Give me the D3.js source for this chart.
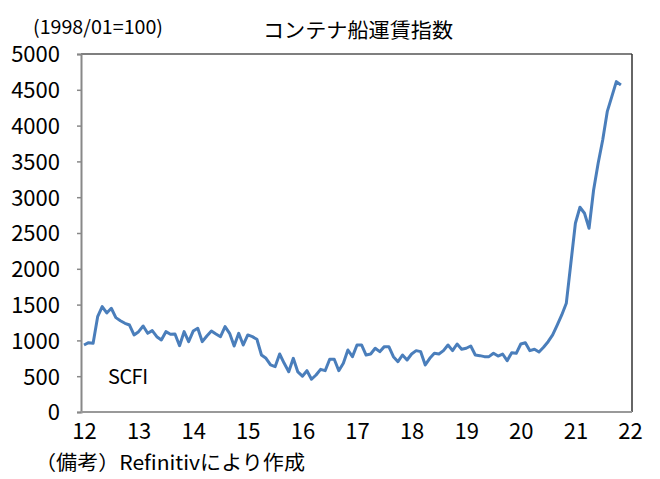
<!DOCTYPE html>
<html lang="ja">
<head>
<meta charset="UTF-8">
<title>コンテナ船運賃指数</title>
<script src="https://d3js.org/d3.v7.min.js"></script>
<style>
    body { margin: 0; background: #fff; }
    svg text { font-family: "Noto Sans CJK JP", sans-serif; fill: #000; }
</style>
</head>
<body>
<svg id="chart" width="660" height="479"></svg>
<script>
    // SCFI monthly, 2012/01 - 2021/11 (1998/01=100)
    const startYear = 2012;
    const scfi = [
        936, 968, 960, 1331, 1471, 1383, 1449, 1318, 1275, 1239, 1215, 1076,
        1122, 1201, 1099, 1136, 1052, 1006, 1122, 1085, 1090, 926, 1122, 982,
        1130, 1169, 982, 1062, 1132, 1090, 1052, 1192, 1099, 922, 1099, 936,
        1076, 1052, 1016, 796, 750, 657, 633, 810, 680, 563, 750, 560,
        500, 577, 457, 517, 596, 577, 736, 736, 577, 680, 866, 773,
        936, 936, 796, 810, 890, 843, 913, 913, 773, 703, 796, 726,
        810, 857, 843, 657, 750, 820, 810, 857, 936, 857, 950, 876,
        890, 922, 796, 787, 773, 773, 820, 782, 810, 717, 829, 820,
        950, 968, 857, 876, 838, 904, 982, 1076, 1215, 1355, 1518, 2077,
        2636, 2860, 2776, 2566, 3101, 3474, 3800, 4195, 4405, 4614, 4568
    ];
    const yearTicks = [12, 13, 14, 15, 16, 17, 18, 19, 20, 21, 22];
    const valueTicks = [0, 500, 1000, 1500, 2000, 2500, 3000, 3500, 4000, 4500, 5000];

    const title = "コンテナ船運賃指数";
    const unitLabel = "(1998/01=100)";
    const seriesLabel = "SCFI";
    const note = "（備考）Refinitivにより作成";

    const svg = d3.select("#chart");
    const plot = { left: 81, right: 632, top: 54, bottom: 412 };

    const x = d3.scaleLinear()
        .domain([startYear, startYear + 10])
        .range([84, 630]);
    const y = d3.scaleLinear()
        .domain([0, 5000])
        .range([plot.bottom, plot.top]);

    // frame
    svg.append("line")
        .attr("x1", plot.left).attr("x2", plot.right)
        .attr("y1", plot.top).attr("y2", plot.top)
        .attr("stroke", "#555").attr("stroke-width", 1.5);
    svg.append("line")
        .attr("x1", plot.right).attr("x2", plot.right)
        .attr("y1", plot.top).attr("y2", plot.bottom)
        .attr("stroke", "#333").attr("stroke-width", 1.5);

    // y axis
    const yAxis = svg.append("g")
        .attr("transform", `translate(${plot.left},0)`)
        .call(d3.axisLeft(y).tickValues(valueTicks).tickFormat(d3.format("d"))
            .tickSize(4).tickPadding(17));
    yAxis.select(".domain").attr("stroke", "#888").attr("stroke-width", 2);
    yAxis.selectAll(".tick line").attr("stroke", "#888").attr("stroke-width", 1.5);
    yAxis.selectAll("text").attr("font-size", 22).attr("dy", "0.36em")
        .style("font-family", "'Noto Sans CJK JP', sans-serif");

    // x axis
    const xAxis = svg.append("g")
        .attr("transform", `translate(0,${plot.bottom})`)
        .call(d3.axisBottom(x)
            .tickValues(yearTicks.map(d => 2000 + d))
            .tickFormat(d => d - 2000)
            .tickSize(0).tickPadding(11));
    xAxis.select(".domain").attr("stroke", "#999").attr("stroke-width", 2)
        .attr("d", `M${plot.left},0H${plot.right}`);
    xAxis.selectAll("text").attr("font-size", 22)
        .style("font-family", "'Noto Sans CJK JP', sans-serif");

    // series
    const line = d3.line()
        .x((d, i) => x(startYear + i / 12))
        .y(d => y(d));
    svg.append("path")
        .datum(scfi)
        .attr("d", line)
        .attr("fill", "none")
        .attr("stroke", "#4a7ebb")
        .attr("stroke-width", 3)
        .attr("stroke-linejoin", "round");

    // labels
    svg.append("text")
        .attr("x", 263).attr("y", 38)
        .attr("font-size", 20.5)
        .attr("textLength", 190).attr("lengthAdjust", "spacingAndGlyphs")
        .text(title);
    svg.append("text")
        .attr("x", 33).attr("y", 34)
        .attr("font-size", 19)
        .attr("textLength", 130).attr("lengthAdjust", "spacingAndGlyphs")
        .text(unitLabel);
    svg.append("text")
        .attr("x", 108).attr("y", 384)
        .attr("font-size", 20)
        .attr("textLength", 40).attr("lengthAdjust", "spacing")
        .text(seriesLabel);
    svg.append("text")
        .attr("x", 35).attr("y", 470)
        .attr("font-size", 20)
        .attr("textLength", 270).attr("lengthAdjust", "spacingAndGlyphs")
        .text(note);
</script>
</body>
</html>
